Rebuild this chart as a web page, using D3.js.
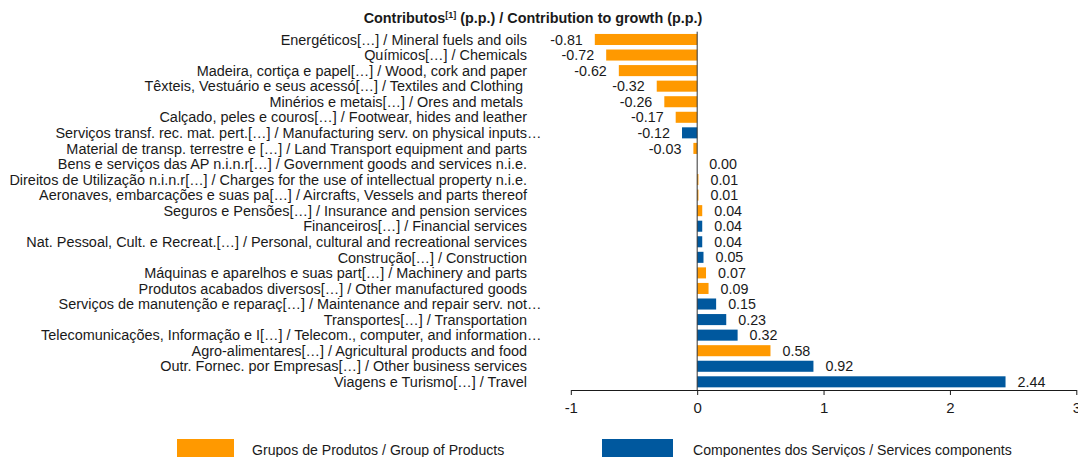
<!DOCTYPE html>
<html>
<head>
<meta charset="utf-8">
<script src="https://cdn.jsdelivr.net/npm/d3@7"></script>
<style>
  html, body { margin: 0; padding: 0; background: #fff; }
  svg text { font-family: "Liberation Sans", Arial, sans-serif; fill: #1a1a1a; }
</style>
</head>
<body>
<svg id="chart" width="1078" height="457"></svg>
<script>
const categories = [
  "Energéticos[…] / Mineral fuels and oils",
  "Químicos[…] / Chemicals",
  "Madeira, cortiça e papel[…] / Wood, cork and paper",
  "Têxteis, Vestuário e seus acessó[…] / Textiles and Clothing ",
  "Minérios e metais[…] / Ores and metals ",
  "Calçado, peles e couros[…] / Footwear, hides and leather",
  "Serviços transf. rec. mat. pert.[…] / Manufacturing serv. on physical inputs…",
  "Material de transp. terrestre e […] / Land Transport equipment and parts",
  "Bens e serviços das AP n.i.n.r[…] / Government goods and services n.i.e.",
  "Direitos de Utilização n.i.n.r[…] / Charges for the use of intellectual property n.i.e.",
  "Aeronaves, embarcações e suas pa[…] / Aircrafts, Vessels and parts thereof",
  "Seguros e Pensões[…] / Insurance and pension services",
  "Financeiros[…] / Financial services",
  "Nat. Pessoal, Cult. e Recreat.[…] / Personal, cultural and recreational services",
  "Construção[…] / Construction",
  "Máquinas e aparelhos e suas part[…] / Machinery and parts",
  "Produtos acabados diversos[…] / Other manufactured goods",
  "Serviços de manutenção e reparaç[…] / Maintenance and repair serv. not…",
  "Transportes[…] / Transportation",
  "Telecomunicações, Informação e I[…] / Telecom., computer, and information…",
  "Agro-alimentares[…] / Agricultural products and food",
  "Outr. Fornec. por Empresas[…] / Other business services",
  "Viagens e Turismo[…] / Travel"
];
const values = [-0.81, -0.72, -0.62, -0.32, -0.26, -0.17, -0.12, -0.03, 0.00, 0.01, 0.01, 0.04, 0.04, 0.04, 0.05, 0.07, 0.09, 0.15, 0.23, 0.32, 0.58, 0.92, 2.44];
const seriesOf = ["P","P","P","P","P","P","S","P","S","P","P","P","S","S","S","P","P","S","S","S","P","S","S"];
const seriesKeys = ["P", "S"];
const seriesNames = ["Grupos de Produtos / Group of Products", "Componentes dos Serviços / Services components"];
const seriesColors = ["#FF9900", "#00589E"];
const tickValues = [-1, 0, 1, 2, 3];
const xDomain = [-1, 3];
const titleMain = "Contributos";
const titleSup = "[1]";
const titleRest = " (p.p.) / Contribution to growth (p.p.)";

const hyph = s => s.replace("\u2212", "-");
const fmtVal = v => hyph(d3.format(".2f")(v));
const fmtTick = v => hyph(d3.format("d")(v));

const svg = d3.select("#chart");
const x = d3.scaleLinear().domain(xDomain).range([570.8, 1076.3]);
const y = d3.scaleBand().domain(categories).range([31.7, 389.6]).paddingInner(0.29).paddingOuter(0.145);
const color = d3.scaleOrdinal().domain(seriesKeys).range(seriesColors);

const data = categories.map((c, i) => ({ cat: c, v: values[i], s: seriesOf[i] }));

// Title
const title = svg.append("text").attr("x", 533).attr("y", 23)
  .attr("text-anchor", "middle").style("font-weight", "bold").style("font-size", "14.4px");
title.append("tspan").text(titleMain);
title.append("tspan").attr("dy", -5).style("font-size", "9px").text(titleSup);
title.append("tspan").attr("dy", 5).text(titleRest);

// Bars
svg.append("g").selectAll("rect").data(data).join("rect")
  .attr("x", d => x(Math.min(0, d.v)))
  .attr("width", d => Math.abs(x(d.v) - x(0)))
  .attr("y", d => y(d.cat))
  .attr("height", y.bandwidth())
  .attr("fill", d => color(d.s));

// Zero line
svg.append("line").attr("x1", x(0)).attr("x2", x(0))
  .attr("y1", y.range()[0]).attr("y2", 390)
  .attr("stroke", "#333").attr("stroke-width", 1);

// Category labels
const labelX = 527;
const labelSize = "14.45px";
const tmp = svg.append("text").style("font-size", labelSize).text("…");
const ellW = tmp.node().getComputedTextLength();
tmp.remove();
svg.append("g").selectAll("text").data(data).join("text")
  .attr("x", d => d.cat.endsWith("…") ? labelX + ellW : labelX)
  .attr("y", d => y(d.cat) + y.bandwidth() / 2)
  .attr("dy", "0.36em")
  .attr("text-anchor", "end")
  .style("font-size", labelSize)
  .style("white-space", "pre")
  .text(d => d.cat);

// Value labels
svg.append("g").selectAll("text").data(data).join("text")
  .attr("x", d => d.v < 0 ? x(d.v) - 12 : x(d.v) + 12)
  .attr("y", d => y(d.cat) + y.bandwidth() / 2)
  .attr("dy", "0.36em")
  .attr("text-anchor", d => d.v < 0 ? "end" : "start")
  .style("font-size", "14.3px")
  .text(d => fmtVal(d.v));

// Axis
const axis = d3.axisBottom(x).tickValues(tickValues).tickFormat(fmtTick).tickSize(5).tickSizeOuter(0).tickPadding(7);
const gAxis = svg.append("g").attr("transform", "translate(0,390)").call(axis);
gAxis.select(".domain").attr("stroke", "#1a1a1a");
gAxis.selectAll(".tick line").attr("stroke", "#1a1a1a");
gAxis.selectAll(".tick text").attr("fill", "#1a1a1a")
  .style("font-family", "'Liberation Sans Narrow', 'Liberation Sans', Arial, sans-serif")
  .style("font-size", "15px");

// Legend
const legendPos = [{ rx: 177, rw: 57, tx: 252 }, { rx: 602, rw: 71, tx: 693 }];
const lg = svg.append("g").selectAll("g").data(seriesKeys).join("g");
lg.append("rect").attr("x", (d, i) => legendPos[i].rx).attr("y", 439)
  .attr("width", (d, i) => legendPos[i].rw).attr("height", 20).attr("fill", d => color(d));
lg.append("text").attr("x", (d, i) => legendPos[i].tx).attr("y", 455)
  .style("font-size", "14.1px").text((d, i) => seriesNames[i]);
</script>
</body>
</html>
